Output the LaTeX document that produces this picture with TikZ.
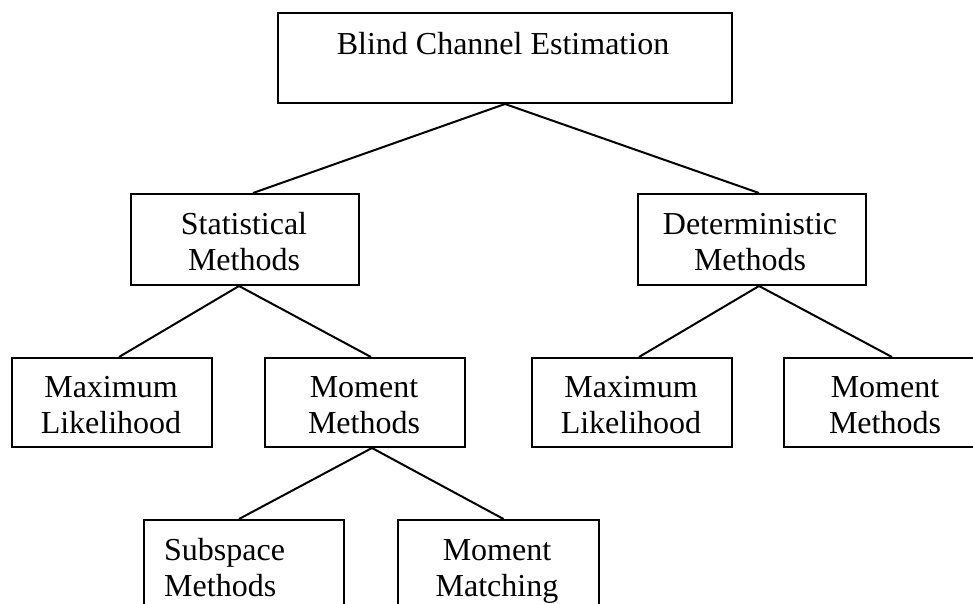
\documentclass[tikz,border=0pt]{standalone}
\usepackage{fontspec}
\setmainfont{Liberation Serif}
\begin{document}
\begin{tikzpicture}[x=1pt,y=-1pt,
  box/.style={draw,line width=2pt,rectangle,inner sep=0pt,anchor=north west},
  lbl/.style={inner sep=0pt,anchor=base,font=\fontsize{32}{36}\selectfont},
  lbll/.style={lbl,anchor=base west},
  link/.style={line width=2pt}]
\useasboundingbox (0,0) rectangle (973,604);
\clip (0,0) rectangle (973,604);
% boxes
\node[box,minimum width=454pt,minimum height=90pt] (top) at (277,12) {};
\node[box,minimum width=228pt,minimum height=91pt] (stat) at (130,193) {};
\node[box,minimum width=228pt,minimum height=91pt] (det) at (637,193) {};
\node[box,minimum width=200pt,minimum height=89pt] (mla) at (11,357) {};
\node[box,minimum width=200pt,minimum height=89pt] (mma) at (264,357) {};
\node[box,minimum width=200pt,minimum height=89pt] (mlb) at (531,357) {};
\node[box,minimum width=200pt,minimum height=89pt] (mmb) at (783,357) {};
\node[box,minimum width=200pt,minimum height=110pt] (sub) at (143,519) {};
\node[box,minimum width=201pt,minimum height=110pt] (mmat) at (397,519) {};
% texts
\node[lbl] (t0) at (503,55) {Blind Channel Estimation};
\node[lbl] (t1a) at (244,234) {Statistical};
\node[lbl] (t1b) at (244,270) {Methods};
\node[lbl] (t2a) at (750,234) {Deterministic};
\node[lbl] (t2b) at (750,270) {Methods};
\node[lbl] (t3a) at (111,397) {Maximum};
\node[lbl] (t3b) at (111,433) {Likelihood};
\node[lbl] (t4a) at (364,397) {Moment};
\node[lbl] (t4b) at (364,433) {Methods};
\node[lbl] (t5a) at (631,397) {Maximum};
\node[lbl] (t5b) at (631,433) {Likelihood};
\node[lbl] (t6a) at (885,397) {Moment};
\node[lbl] (t6b) at (885,433) {Methods};
\node[lbll] (t7a) at (164,560) {Subspace};
\node[lbll] (t7b) at (164,596) {Methods};
\node[lbl] (t8a) at (497,560) {Moment};
\node[lbl] (t8b) at (497,596) {Matching};
% connectors
\draw[link] (top.south) -- ([xshift=8pt]stat.north);
\draw[link] (top.south) -- ([xshift=7pt]det.north);
\draw[link] ([xshift=-6pt]stat.south) -- ([xshift=7pt]mla.north);
\draw[link] ([xshift=-6pt]stat.south) -- ([xshift=6pt]mma.north);
\draw[link] ([xshift=7pt]det.south) -- ([xshift=7pt]mlb.north);
\draw[link] ([xshift=7pt]det.south) -- ([xshift=8pt]mmb.north);
\draw[link] ([xshift=7pt]mma.south) -- ([xshift=-5pt]sub.north);
\draw[link] ([xshift=7pt]mma.south) -- ([xshift=5pt]mmat.north);
\end{tikzpicture}
\end{document}
